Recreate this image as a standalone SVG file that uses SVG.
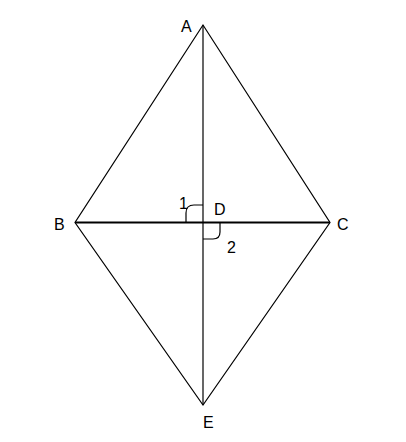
<svg xmlns="http://www.w3.org/2000/svg" width="406" height="442" viewBox="0 0 406 442">
<style>
.l{stroke:#000;stroke-width:1.2;fill:none}
.t{font-family:"Liberation Sans",Arial,sans-serif;font-size:16px;fill:#000}
</style>
<rect width="406" height="442" fill="#fff"/>
<g id="lines">
<path class="l" d="M203,25 L75,222.5 L203,405 L330,222.5 Z"/>
<line class="l" x1="203" y1="25" x2="203" y2="405"/>
<line x1="75" y1="222.5" x2="330" y2="222.5" stroke="#000" stroke-width="2"/>
<path class="l" d="M186,222.5 L186,213 Q186,205 194,205 L203,205"/>
<path class="l" d="M203,239 L213,239 Q220,239 220,232 L220,222.5"/>
</g>
<g id="labels">
<text class="t" x="181" y="32">A</text>
<text class="t" x="54" y="230">B</text>
<text class="t" x="337" y="230">C</text>
<text class="t" x="203" y="428">E</text>
<text class="t" x="214" y="215">D</text>
<text class="t" x="179" y="209">1</text>
<text class="t" x="227" y="253">2</text>
</g>
</svg>
